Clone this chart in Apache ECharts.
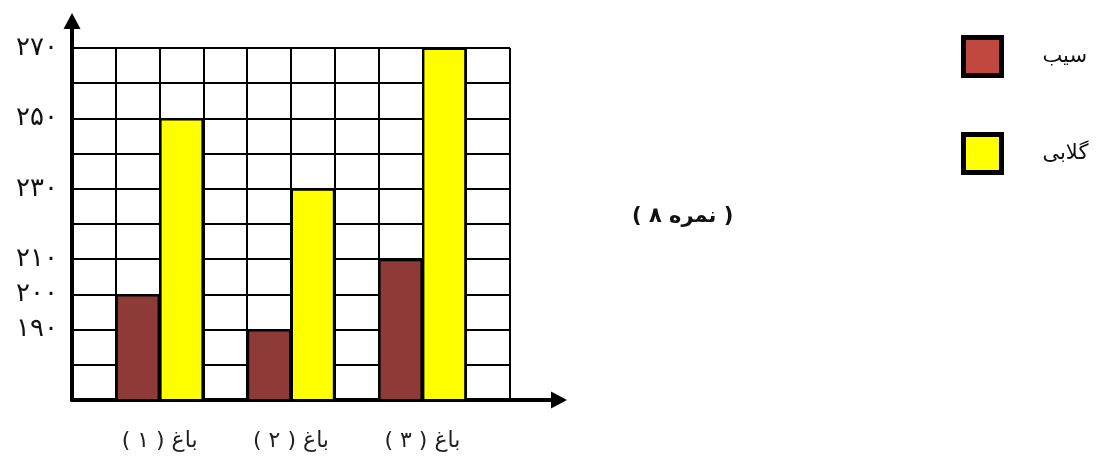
<!DOCTYPE html>
<html>
<head>
<meta charset="utf-8">
<script src="https://cdn.jsdelivr.net/npm/echarts@6/dist/echarts.min.js"></script>
<style>
html,body{margin:0;padding:0;background:#fff;}
#c{width:1105px;height:461px;direction:rtl;}
</style>
</head>
<body>
<div id="c" dir="rtl"></div>
<script>
// ---- data ----
var gardens = ['باغ ( ۱ )', 'باغ ( ۲ )', 'باغ ( ۳ )'];
var seriesNames = ['سیب', 'گلابی'];
var apple = [200, 190, 210];
var pear = [250, 230, 270];
var yTickValues = [190, 200, 210, 230, 250, 270];
var yTickLabels = ['۱۹۰', '۲۰۰', '۲۱۰', '۲۳۰', '۲۵۰', '۲۷۰'];
var note = '( نمره ۸ )';

// ---- layout: each garden takes 3 columns (gap, apple, pear), plus one trailing gap ----
var nCols = gardens.length * 3 + 1;
var cols = [];
for (var i = 0; i < nCols; i++) cols.push(String(i));
var appleCol = [], pearCol = [];
for (var i = 0; i < nCols; i++) { appleCol.push('-'); pearCol.push('-'); }
var labelAt = {};
gardens.forEach(function (g, k) {
  appleCol[3 * k + 1] = apple[k];
  pearCol[3 * k + 2] = pear[k];
  labelAt[3 * k + 2] = g;
});
var yLabelMap = {};
yTickValues.forEach(function (v, k) { yLabelMap[v] = yTickLabels[k]; });

var FONT = 'DejaVu Sans';
var chart = echarts.init(document.getElementById('c'), null, {renderer: 'canvas'});
chart.setOption({
  animation: false,
  backgroundColor: '#fff',
  textStyle: {fontFamily: FONT},
  title: {
    text: note,
    left: 627, top: 201,
    textStyle: {fontSize: 21, fontWeight: 'bold', color: '#111', fontFamily: FONT}
  },
  legend: {
    orient: 'vertical',
    left: 956, top: 30,
    align: 'left',
    icon: 'rect',
    itemWidth: 38, itemHeight: 38,
    itemGap: 54,
    itemStyle: {borderColor: '#000', borderWidth: 5},
    textStyle: {fontSize: 21, color: '#111', fontFamily: FONT, padding: [0, 0, 0, 36]},
    data: [
      {name: seriesNames[0], itemStyle: {color: '#c0483f', borderColor: '#000', borderWidth: 5}},
      {name: seriesNames[1], itemStyle: {color: '#ffff00', borderColor: '#000', borderWidth: 5}}
    ]
  },
  grid: [
    {left: 72, right: 595, top: 48, bottom: 61},
    {left: 72, right: 546, top: 21, bottom: 61}
  ],
  xAxis: [
    {
      type: 'category', gridIndex: 0, data: cols, boundaryGap: true,
      axisLine: {show: false}, axisTick: {show: false}, axisLabel: {show: false},
      splitLine: {show: true, interval: 0, lineStyle: {color: '#000', width: 2}}
    },
    {
      type: 'value', gridIndex: 0, min: 0, max: nCols, interval: 1, position: 'bottom',
      axisLine: {show: false}, axisTick: {show: false}, splitLine: {show: false},
      axisLabel: {
        show: true, margin: 30, fontSize: 22, color: '#222', fontFamily: FONT,
        formatter: function (v) { return labelAt[v] || ''; }
      }
    },
    {
      type: 'value', gridIndex: 1, min: 0, max: 1,
      axisLine: {show: true, onZero: false, symbol: ['none', 'triangle'], symbolSize: [17, 16],
        lineStyle: {color: '#000', width: 4}},
      axisTick: {show: false}, axisLabel: {show: false}, splitLine: {show: false}
    }
  ],
  yAxis: [
    {
      type: 'value', gridIndex: 0, min: 170, max: 270, interval: 10,
      axisLine: {show: false}, axisTick: {show: false},
      axisLabel: {
        show: true, margin: 14, fontSize: 26, color: '#111', fontFamily: FONT,
        formatter: function (v) { return yLabelMap[v] || ''; }
      },
      splitLine: {show: true, lineStyle: {color: '#000', width: 2}}
    },
    {
      type: 'value', gridIndex: 1, min: 0, max: 1,
      axisLine: {show: true, onZero: false, symbol: ['none', 'triangle'], symbolSize: [17, 16],
        lineStyle: {color: '#000', width: 4}},
      axisTick: {show: false}, axisLabel: {show: false}, splitLine: {show: false}
    }
  ],
  series: [
    {
      name: seriesNames[0], type: 'bar', xAxisIndex: 0, yAxisIndex: 0,
      data: appleCol, barWidth: '100%', barGap: '-100%',
      itemStyle: {color: '#8e3a36', borderColor: '#000', borderWidth: 2}
    },
    {
      name: seriesNames[1], type: 'bar', xAxisIndex: 0, yAxisIndex: 0,
      data: pearCol, barWidth: '100%', barGap: '-100%',
      itemStyle: {color: '#ffff00', borderColor: '#000', borderWidth: 2}
    }
  ]
});
</script>
</body>
</html>
